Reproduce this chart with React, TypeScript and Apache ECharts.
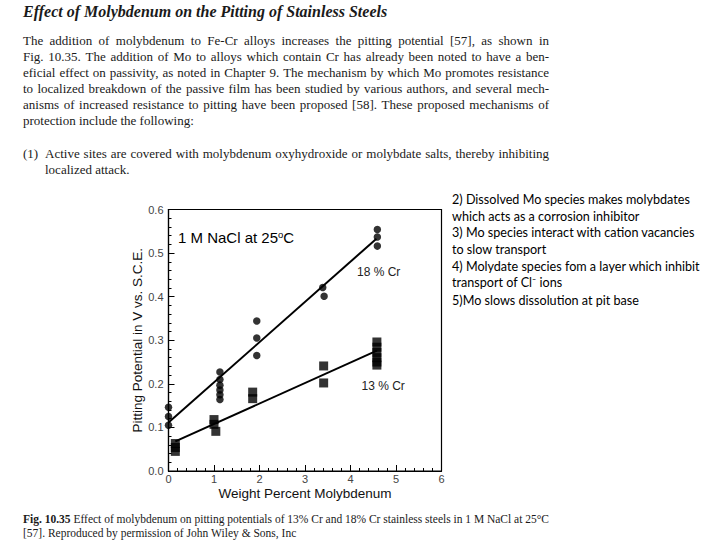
import React, { useEffect, useRef } from "react";
import * as echarts from "echarts";

// ---------------- DATA ----------------
// 18 % Cr (circles)
const cr18X = [0, 0, 0, 1.13, 1.13, 1.13, 1.13, 1.13, 1.13, 1.94, 1.94, 1.94, 3.39, 3.42, 4.59, 4.59, 4.59];
const cr18Y = [0.146, 0.125, 0.105, 0.227, 0.21, 0.197, 0.186, 0.175, 0.164, 0.344, 0.305, 0.265, 0.421, 0.401, 0.554, 0.537, 0.516];
// 13 % Cr (squares)
const cr13X = [0.15, 0.15, 0.15, 1.0, 1.0, 1.04, 1.85, 1.85, 3.41, 3.41, 4.58, 4.58, 4.58, 4.58, 4.58, 4.58];
const cr13Y = [0.063, 0.054, 0.045, 0.118, 0.107, 0.091, 0.181, 0.166, 0.241, 0.202, 0.296, 0.284, 0.272, 0.26, 0.25, 0.243];
// fitted lines
const fit18X = [0, 4.57];
const fit18Y = [0.111, 0.533];
const fit13X = [0.15, 4.58];
const fit13Y = [0.068, 0.276];

const xAxisTitle = "Weight Percent Molybdenum";
const yAxisTitle = "Pitting Potential in V vs. S.C.E.";
const conditionText = "1 M NaCl at 25";
const label18 = "18 % Cr";
const label13 = "13 % Cr";

const pageTitle = "Effect of Molybdenum on the Pitting of Stainless Steels";
const paragraphLines = [
  "The addition of molybdenum to Fe-Cr alloys increases the pitting potential [57], as shown in",
  "Fig. 10.35. The addition of Mo to alloys which contain Cr has already been noted to have a ben-",
  "eficial effect on passivity, as noted in Chapter 9. The mechanism by which Mo promotes resistance",
  "to localized breakdown of the passive film has been studied by various authors, and several mech-",
  "anisms of increased resistance to pitting have been proposed [58]. These proposed mechanisms of",
  "protection include the following:",
];
const itemLabel = "(1)";
const itemLines = [
  "Active sites are covered with molybdenum oxyhydroxide or molybdate salts, thereby inhibiting",
  "localized attack.",
];
const captionLines = [
  "Fig. 10.35 Effect of molybdenum on pitting potentials of 13% Cr and 18% Cr stainless steels in 1 M NaCl at 25°C",
  "[57]. Reproduced by permission of John Wiley & Sons, Inc",
];
const noteLines = [
  "2) Dissolved Mo species makes molybdates",
  "which acts as a corrosion inhibitor",
  "3) Mo species interact with cation vacancies",
  "to slow transport",
  "4) Molydate species fom a layer which inhibit",
  "transport of Cl⁻ ions",
  "5)Mo slows dissolution at pit base",
];

// ---------------- HELPERS ----------------
const SERIF = '"Liberation Serif", "Times New Roman", serif';
const SANS = '"Liberation Sans", Arial, Helvetica, sans-serif';
const NOTE = 'Lato, "Noto Sans", sans-serif';

let ctx: CanvasRenderingContext2D | null = null;
function measure(text: string, size: number, family: string, weight = "normal", style = "normal") {
  if (!ctx) ctx = document.createElement("canvas").getContext("2d");
  if (!ctx) return text.length * size * 0.5;
  ctx.font = `${style} ${weight} ${size}px ${family}`;
  return ctx.measureText(text).width;
}

function layoutLine(
  line: string,
  o: { x0: number; x1: number; y: number; size: number; family: string; justify: boolean; boldWords?: number; style?: string; fill?: string }
) {
  const words = line.split(" ");
  const style = o.style || "normal";
  const weights = words.map((_, i) => (i < (o.boldWords || 0) ? "bold" : "normal"));
  const ws = words.map((w, i) => measure(w, o.size, o.family, weights[i], style));
  const total = ws.reduce((a, b) => a + b, 0);
  let gap = measure(" ", o.size, o.family, "normal", style);
  if (o.justify && words.length > 1) gap = (o.x1 - o.x0 - total) / (words.length - 1);
  let x = o.x0;
  return words.map((w, i) => {
    const el = {
      type: "text",
      x,
      y: o.y,
      silent: true,
      style: {
        text: w,
        fontSize: o.size,
        fontFamily: o.family,
        fontWeight: weights[i],
        fontStyle: style,
        fill: o.fill || "#1a1a1a",
        align: "left",
        verticalAlign: "middle",
      },
    };
    x += ws[i] + gap;
    return el;
  });
}

function buildPageText() {
  const els: any[] = [];
  const L = 23;
  const R = 549;
  const bodySize = 13;
  // title
  els.push({
    type: "text",
    x: L,
    y: 11,
    silent: true,
    style: {
      text: pageTitle,
      fontSize: 16,
      fontFamily: SERIF,
      fontWeight: "bold",
      fontStyle: "italic",
      fill: "#1a1a1a",
      align: "left",
      verticalAlign: "middle",
    },
  });
  paragraphLines.forEach((ln, i) => {
    els.push(
      ...layoutLine(ln, { x0: L, x1: R, y: 40.5 + i * 16, size: bodySize, family: SERIF, justify: i < paragraphLines.length - 1 })
    );
  });
  els.push({
    type: "text",
    x: L,
    y: 153.5,
    silent: true,
    style: { text: itemLabel, fontSize: bodySize, fontFamily: SERIF, fill: "#1a1a1a", align: "left", verticalAlign: "middle" },
  });
  itemLines.forEach((ln, i) => {
    els.push(
      ...layoutLine(ln, { x0: 45, x1: R, y: 153.5 + i * 16, size: bodySize, family: SERIF, justify: i < itemLines.length - 1 })
    );
  });
  captionLines.forEach((ln, i) => {
    els.push(
      ...layoutLine(ln, {
        x0: L,
        x1: R,
        y: 518.5 + i * 14.5,
        size: 11.5,
        family: SERIF,
        justify: i === 0,
        boldWords: i === 0 ? 2 : 0,
      })
    );
  });
  // side notes
  const noteSize = 13;
  const natural = measure(noteLines[0], noteSize, NOTE);
  const sx = natural > 0 ? 238 / natural : 1;
  const noteY = [199, 215.5, 232, 249, 265.5, 281.5, 299.5];
  noteLines.forEach((ln, i) => {
    els.push({
      type: "text",
      x: 452,
      y: noteY[i],
      scaleX: sx,
      silent: true,
      style: { text: ln, fontSize: noteSize, fontFamily: NOTE, fill: "#000", align: "left", verticalAlign: "middle" },
    });
  });
  // in-plot annotations
  els.push({
    type: "text",
    x: 178,
    y: 237,
    silent: true,
    style: {
      text: `{n|${conditionText}}{s|o}{n|C}`,
      align: "left",
      verticalAlign: "middle",
      rich: {
        n: { fontSize: 15, fontFamily: SANS, fill: "#000", lineHeight: 16, verticalAlign: "bottom" },
        s: { fontSize: 9.5, fontFamily: SANS, fill: "#000", lineHeight: 16, verticalAlign: "top" },
      },
    },
  });
  els.push({
    type: "text",
    x: 357,
    y: 271.5,
    silent: true,
    style: { text: label18, fontSize: 12, fontFamily: SANS, fill: "#222", align: "left", verticalAlign: "middle" },
  });
  els.push({
    type: "text",
    x: 361.5,
    y: 386,
    silent: true,
    style: { text: label13, fontSize: 12, fontFamily: SANS, fill: "#222", align: "left", verticalAlign: "middle" },
  });
  return els;
}

const zip = (xs: number[], ys: number[]) => xs.map((x, i) => [x, ys[i]]);

export default function App() {
  const ref = useRef<HTMLDivElement>(null);
  useEffect(() => {
    if (!ref.current) return;
    const chart = echarts.init(ref.current, undefined, { renderer: "svg" });
    const axisCommon = {
      type: "value",
      axisLine: { show: true, onZero: false, lineStyle: { color: "#000", width: 1.2 } },
      axisTick: { show: true, inside: true, length: 6, lineStyle: { color: "#000", width: 1 } },
      minorTick: { show: true, splitNumber: 5, length: 3, lineStyle: { color: "#000", width: 1 } },
      splitLine: { show: false },
      minorSplitLine: { show: false },
      nameLocation: "middle",
      nameTextStyle: { fontSize: 13.5, fontFamily: SANS, color: "#111" },
    };
    chart.setOption({
      animation: false,
      backgroundColor: "#fff",
      grid: {
        left: 168.5,
        right: 278.5,
        top: 209.5,
        bottom: 69,
        show: true,
        borderColor: "#000",
        borderWidth: 1.2,
        backgroundColor: "transparent",
      },
      xAxis: {
        ...axisCommon,
        min: 0,
        max: 6,
        interval: 1,
        name: xAxisTitle,
        nameGap: 15,
        axisLabel: { margin: 2, fontSize: 11, color: "#444", fontFamily: SANS },
      },
      yAxis: {
        ...axisCommon,
        min: 0,
        max: 0.6,
        interval: 0.1,
        name: yAxisTitle,
        nameGap: 22,
        nameRotate: 90,
        axisLabel: {
          margin: 5,
          fontSize: 11,
          color: "#444",
          fontFamily: SANS,
          formatter: (v: number) => v.toFixed(1),
        },
      },
      series: [
        {
          type: "line",
          data: zip(fit18X, fit18Y),
          showSymbol: false,
          symbol: "none",
          lineStyle: { color: "#000", width: 2 },
          silent: true,
        },
        {
          type: "line",
          data: zip(fit13X, fit13Y),
          showSymbol: false,
          symbol: "none",
          lineStyle: { color: "#000", width: 2 },
          silent: true,
        },
        {
          type: "scatter",
          name: "18 % Cr",
          data: zip(cr18X, cr18Y),
          symbol: "circle",
          symbolSize: 7.5,
          clip: false,
          itemStyle: { color: "#000" },
        },
        {
          type: "scatter",
          name: "13 % Cr",
          data: zip(cr13X, cr13Y),
          symbol: "rect",
          symbolSize: [9, 9],
          clip: false,
          itemStyle: { color: "#000" },
        },
      ],
      graphic: buildPageText(),
    });
    return () => chart.dispose();
  }, []);
  return (
    <div
      ref={ref}
      style={{ position: "absolute", left: 0, top: 0, width: 720, height: 540, background: "#fff" }}
    />
  );
}
